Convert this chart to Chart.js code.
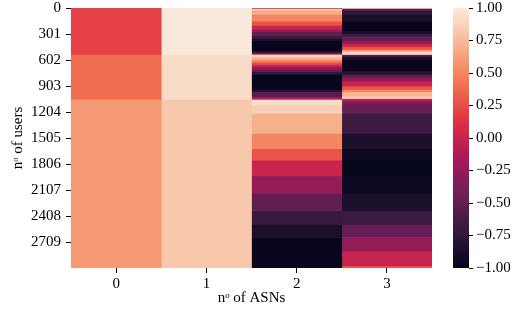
<!DOCTYPE html>
<html>
<head>
<meta charset="utf-8">
<script src="https://cdn.jsdelivr.net/npm/chart.js@4"></script>
<style>
  html,body{margin:0;padding:0;background:#fff;}
  #wrap{position:relative;width:520px;height:320px;}
  #heat{position:absolute;left:0;top:0;}
  #cbar{position:absolute;left:440px;top:0;}
</style>
</head>
<body>
<div id="wrap">
  <canvas id="heat" width="520" height="320"></canvas>
  <canvas id="cbar" width="80" height="320"></canvas>
</div>
<script>
const N_USERS = 3010;
const asns = ["0", "1", "2", "3"];
const yTickLabels = ["0", "301", "602", "903", "1204", "1505", "1806", "2107", "2408", "2709"];
const cbTicks = [-1, -0.75, -0.5, -0.25, 0, 0.25, 0.5, 0.75, 1];

// each column: first user of a run, and the value of that run
const col0Starts = [0, 544, 1065];
const col0Values = [0.20, 0.40, 0.59];

const col1Starts = [0, 544, 1065];
const col1Values = [0.99, 0.92, 0.82];

const col2Starts = [0, 12, 31, 81, 159, 208, 255, 281, 332, 359, 390, 506, 524, 536,
  544, 571, 602, 633, 660, 687, 718, 745, 776, 949, 976, 1030, 1050,
  1065, 1088, 1123, 1227, 1459, 1636, 1768, 1953, 2153, 2358, 2512, 2657];
const col2Values = [0.0, 0.9, 0.68, 0.5, 0.27, 0.0, -0.25, -0.5, -0.7, -0.86, -0.98, -0.72, -0.4, 0.0,
  0.9, 0.72, 0.5, 0.27, 0.0, -0.25, -0.5, -0.75, -0.98, -0.8, -0.55, -0.35, 0.0,
  0.97, 0.92, 0.86, 0.7, 0.5, 0.28, 0.0, -0.27, -0.5, -0.7, -0.86, -0.98];

const col3Starts = [0, 12, 35, 81, 159, 274, 304, 332, 382, 420, 451, 486, 506, 524,
  544, 564, 602, 737, 776, 814, 853, 911, 949, 976, 1027, 1040,
  1053, 1077, 1111, 1227, 1459, 1636, 1768, 1953, 2153, 2358, 2512, 2657, 2821, 2995];
const col3Values = [0.9, -0.5, -0.75, -0.86, -0.98, -0.86, -0.7, -0.5, -0.27, 0.0, 0.27, 0.6, 0.85, 0.97,
  -0.5, -0.86, -0.98, -0.8, -0.5, -0.25, 0.0, 0.28, 0.5, 0.72, 0.85, 0.95,
  0.0, -0.3, -0.47, -0.68, -0.86, -0.94, -0.99, -0.94, -0.86, -0.68, -0.48, -0.27, 0.0, 0.3];

// "rocket" colour map, -1..1
const ROCKET = ["#03051a", "#35193e", "#701f57", "#ad1759", "#e13342", "#f37651", "#f6b48f", "#faebdd"];
const rgb = h => [1, 3, 5].map(i => parseInt(h.slice(i, i + 2), 16));
function rocket(v){
  const t = Math.min(1, Math.max(0, (v + 1) / 2)) * (ROCKET.length - 1);
  const i = Math.min(Math.floor(t), ROCKET.length - 2), f = t - i;
  const a = rgb(ROCKET[i]), b = rgb(ROCKET[i + 1]);
  const c = a.map((x, k) => Math.round(x + (b[k] - x) * f));
  return `rgb(${c[0]},${c[1]},${c[2]})`;
}

const FONT = {family: "'Liberation Serif', serif", size: 15};
Chart.defaults.color = "#000";

// tick labels may overhang the plot edges, like matplotlib
const noOverhang = s => { s.paddingTop = 0; s.paddingBottom = 0; };

function column(idx, starts, values){
  return {
    data: starts.map((s, i) => ({x: asns[idx], y: [s, i + 1 < starts.length ? starts[i + 1] : N_USERS]})),
    backgroundColor: values.map(rocket),
    borderWidth: 0,
    barPercentage: 1,
    categoryPercentage: 1,
    grouped: false
  };
}

new Chart(document.getElementById("heat"), {
  type: "bar",
  data: {
    labels: asns,
    datasets: [
      column(0, col0Starts, col0Values),
      column(1, col1Starts, col1Values),
      column(2, col2Starts, col2Values),
      column(3, col3Starts, col3Values)
    ]
  },
  options: {
    responsive: false,
    animation: false,
    layout: {padding: {top: 8, right: 88, left: 0, bottom: 0}},
    plugins: {legend: {display: false}, tooltip: {enabled: false}},
    scales: {
      x: {
        type: "category",
        offset: true,
        border: {display: false},
        grid: {drawOnChartArea: false, offset: false, tickLength: 5, tickColor: "#000", lineWidth: 1},
        ticks: {font: FONT, padding: 2, maxRotation: 0},
        title: {display: true, text: "nᵒ of ASNs", font: FONT, padding: {top: 0, bottom: 13}},
        afterFit: s => { s.height = 52; }
      },
      y: {
        type: "linear",
        reverse: true,
        min: 0,
        max: N_USERS,
        border: {display: false},
        grid: {drawOnChartArea: false, tickLength: 5, tickColor: "#000", lineWidth: 1},
        afterBuildTicks: s => { s.ticks = yTickLabels.map(l => ({value: Number(l) + 0.5})); },
        ticks: {font: FONT, padding: 5, callback: (v, i) => yTickLabels[i]},
        title: {display: true, text: "nᵒ of users", font: FONT, padding: {top: 9, bottom: 0}},
        afterFit: s => { s.width = 71; noOverhang(s); }
      }
    }
  }
});

// colour bar, filled with the same map from -1 to 1
new Chart(document.getElementById("cbar"), {
  type: "bar",
  data: {
    labels: [""],
    datasets: [{
      data: [[cbTicks[0], cbTicks[cbTicks.length - 1]]],
      borderWidth: 0,
      barPercentage: 1,
      categoryPercentage: 1,
      backgroundColor: ctx => {
        const chart = ctx.chart, ys = chart.scales.y;
        if (!chart.chartArea || !ys) return ROCKET[0];
        const y0 = ys.getPixelForValue(-1), y1 = ys.getPixelForValue(1);
        if (!isFinite(y0) || !isFinite(y1)) return ROCKET[0];
        const g = chart.ctx.createLinearGradient(0, y0, 0, y1);
        for (let k = 0; k <= 40; k++) g.addColorStop(k / 40, rocket(-1 + 2 * k / 40));
        return g;
      }
    }]
  },
  options: {
    responsive: false,
    animation: false,
    layout: {padding: {top: 8, bottom: 52, left: 13, right: 0}},
    plugins: {legend: {display: false}, tooltip: {enabled: false}},
    scales: {
      x: {display: false},
      y: {
        position: "right",
        min: -1,
        max: 1,
        border: {display: false},
        grid: {drawOnChartArea: false, tickLength: 4, tickColor: "#000", lineWidth: 1},
        afterBuildTicks: s => { s.ticks = cbTicks.map(v => ({value: v})); },
        ticks: {font: FONT, padding: 3, callback: v => v.toFixed(2).replace("-", "−")},
        afterFit: s => { s.width = 51; noOverhang(s); }
      }
    }
  }
});
</script>
</body>
</html>
